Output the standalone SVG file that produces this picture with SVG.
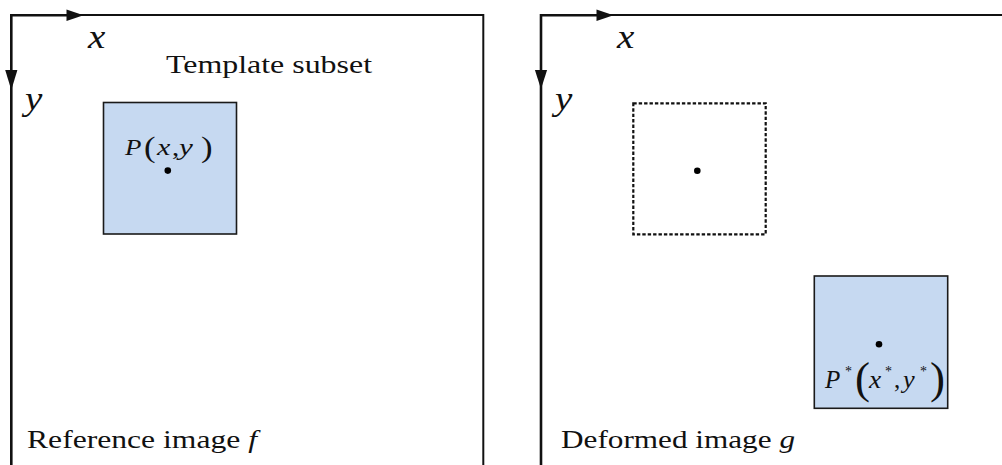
<svg xmlns="http://www.w3.org/2000/svg" width="1002" height="465" viewBox="0 0 1002 465">
<style>
.frame{fill:none;stroke:#111;stroke-width:2}
.axis{fill:none;stroke:#111;stroke-width:2.6}
.head{fill:#111}
.subset{fill:#c6d9f1;stroke:#1a1a1a;stroke-width:1.6}
.ghost{fill:none;stroke:#111;stroke-width:2.2;stroke-dasharray:3.4 2}
.dot{fill:#000}
text{font-family:"Liberation Serif","Times New Roman",serif;fill:#111}
.m{font-style:italic}
.lbl{font-size:25px}
.ax{font-size:34px;font-style:italic}
</style>
<rect width="1002" height="465" fill="#fff"/>
<g id="reference-frame">
<path class="frame" d="M11,15 H483.3 V465"/>
<path class="axis" d="M11.3,465 V15.3 H75"/>
<polygon class="head" points="83.5,15.3 66.5,9.5 66.5,21.1"/>
<polygon class="head" points="11.3,90 5.2,70 17.4,70"/>
<text class="ax" transform="translate(88,48) scale(1.15,1)">x</text>
<text class="ax" transform="translate(25,110) scale(1.15,1)">y</text>
<text class="lbl" x="166" y="73" textLength="206" lengthAdjust="spacingAndGlyphs">Template subset</text>
<text class="lbl" x="27" y="448" textLength="230" lengthAdjust="spacingAndGlyphs">Reference image <tspan class="m">f</tspan></text>
</g>
<g id="deformed-frame">
<path class="frame" d="M541,15 H1002"/>
<path class="axis" d="M541,465 V15.3 H605"/>
<polygon class="head" points="613.5,15.3 596.5,9.5 596.5,21.1"/>
<polygon class="head" points="541,89 534.9,70 547.1,70"/>
<text class="ax" transform="translate(617,48) scale(1.15,1)">x</text>
<text class="ax" transform="translate(555,110) scale(1.15,1)">y</text>
<text class="lbl" x="561" y="448" textLength="234" lengthAdjust="spacingAndGlyphs">Deformed image <tspan class="m">g</tspan></text>
</g>
<g id="template-subset">
<rect class="subset" x="103.5" y="102.5" width="133" height="131.5"/>
<circle class="dot" cx="167.8" cy="170.6" r="3.3"/>
<text class="m" font-size="24" transform="translate(125,155) scale(1.12,1)">P</text>
<text font-size="29" transform="translate(144,157) scale(1.2,1)">(</text>
<text class="m" font-size="24" transform="translate(157,155) scale(1.25,1)">x</text>
<text font-size="24" transform="translate(172,155) scale(1.2,1)">,</text>
<text class="m" font-size="24" transform="translate(179,155) scale(1.3,1)">y</text>
<text font-size="29" transform="translate(201,157) scale(1.2,1)">)</text>
</g>
<g id="original-position">
<rect class="ghost" x="633.3" y="103.3" width="132.4" height="131"/>
<circle class="dot" cx="697.3" cy="170.7" r="3.3"/>
</g>
<g id="deformed-subset">
<rect class="subset" x="814.3" y="276" width="133.4" height="132.3"/>
<circle class="dot" cx="879" cy="344.3" r="3.3"/>
<text class="m" font-size="25" x="825" y="388">P</text>
<text font-size="14" x="845" y="376">*</text>
<text font-size="45" x="855" y="393">(</text>
<text class="m" font-size="25" transform="translate(869,388) scale(1.1,1)">x</text>
<text font-size="14" x="885" y="376">*</text>
<text font-size="25" x="894" y="388">,</text>
<text class="m" font-size="25" transform="translate(903,388) scale(1.05,1)">y</text>
<text font-size="14" x="920" y="376">*</text>
<text font-size="45" x="930" y="393">)</text>
</g>
</svg>
